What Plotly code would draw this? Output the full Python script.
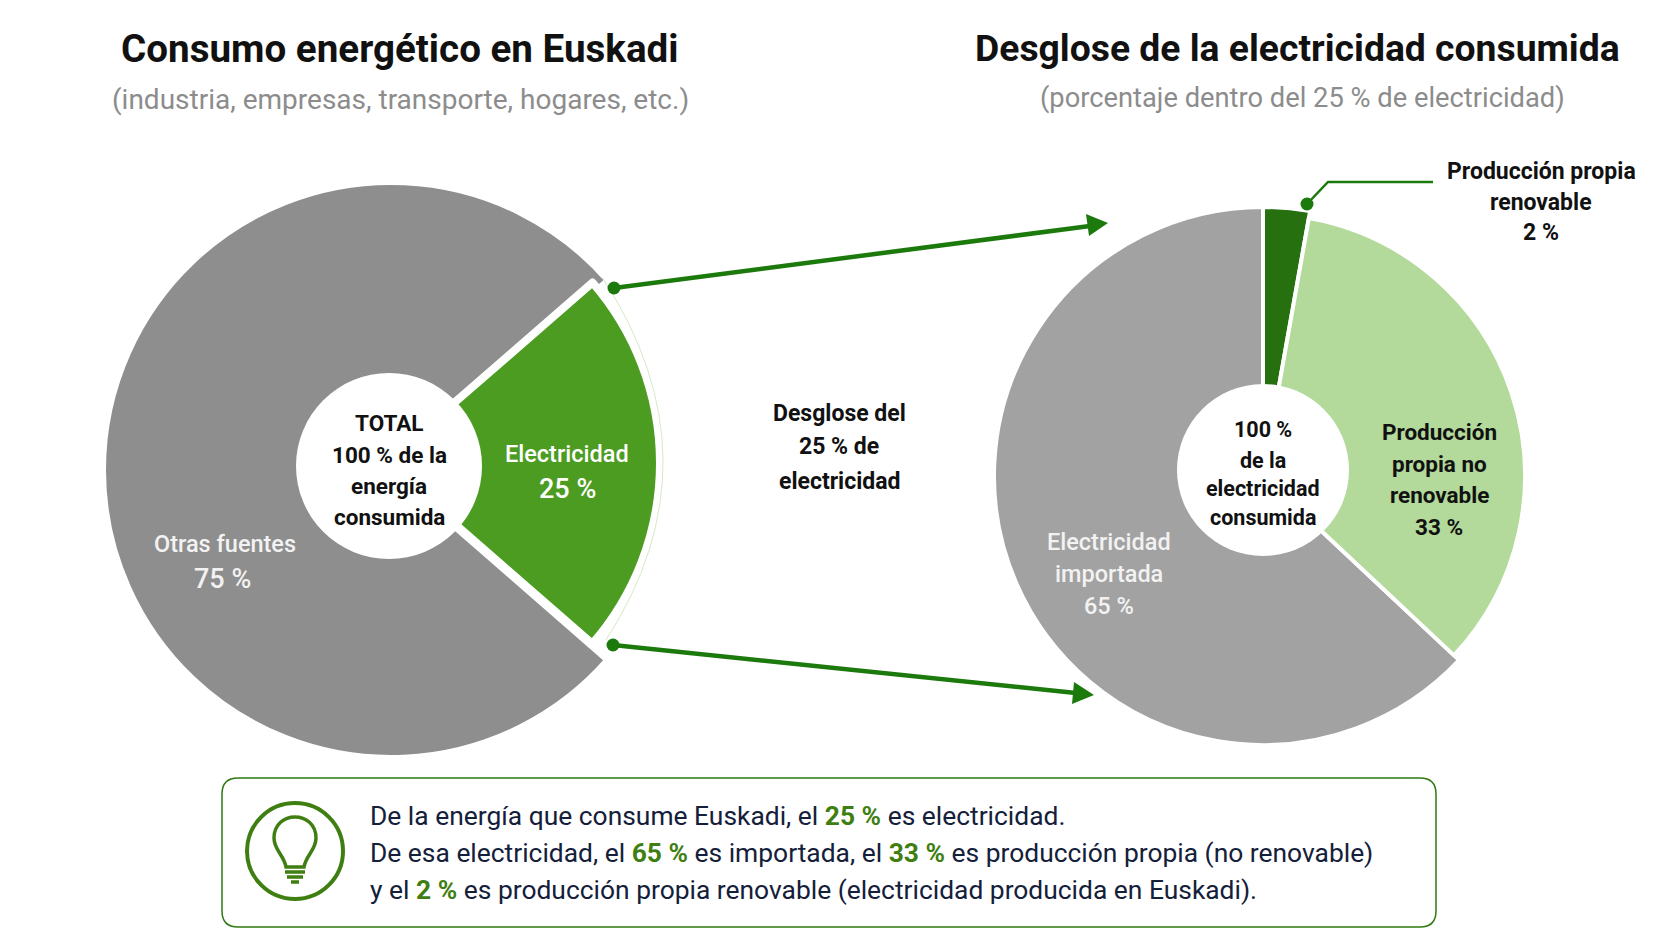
import plotly.graph_objects as go

W, H = 1672, 941
PAGE = 8  # browser page margin around the figure
FONT = "Roboto"

# Shares as drawn in the picture (arc lengths); printed percentages are in the label lists.
left_categories = ["Electricidad", "Otras fuentes"]
left_values = [22.8, 77.2]
left_labels = ["25 %", "75 %"]
right_categories = ["Producción propia renovable", "Producción propia no renovable", "Electricidad importada"]
right_values = [2.8, 34.2, 63.0]
right_labels = ["2 %", "33 %", "65 %"]

GRAY_L, GRAY_R = "#8e8e8e", "#a2a2a2"
GREEN, DARK, LIGHT, LINE = "#4c9c22", "#267010", "#b3d99b", "#1c7a0c"
INK, NAVY, MUTED, ACCENT = "#111111", "#14203a", "#8c8c8c", "#3f7f12"
CLEAR = "rgba(0,0,0,0)"


def px(x):
    return (x - PAGE) / W


def py(y):
    return 1 - (y - PAGE) / H


def dom(cx, cy, r):
    return dict(x=[px(cx - r), px(cx + r)], y=[py(cy + r), py(cy - r)])


def pie(values, labels, colors, widths, cx, cy, r, hole, rotation):
    return go.Pie(values=values, labels=labels, domain=dom(cx, cy, r), hole=hole, rotation=rotation,
                  sort=False, direction="clockwise", textinfo="none", hoverinfo="label",
                  showlegend=False,
                  marker=dict(colors=colors, line=dict(color="white", width=widths)))


fig = go.Figure()
fig.add_trace(pie(left_values, left_categories, [CLEAR, GRAY_L], [0, 8], 391, 470, 289, 70 / 289, 49))
fig.add_trace(pie(left_values, left_categories, [GREEN, CLEAR], [8, 0], 385, 463, 275, 70 / 275, 49))
fig.add_trace(pie(right_values, right_categories, [DARK, CLEAR, GRAY_R], [4, 0, 4], 1263, 476, 269, 70 / 269, 0))
fig.add_trace(pie(right_values, right_categories, [CLEAR, LIGHT, CLEAR], [0, 4, 0], 1263, 476, 262, 70 / 262, 0))

shapes = []
annotations = []


def text(x, y, s, size, color=INK, bold=False, anchor="center", weight=None):
    font = dict(family=FONT, size=size, color=color)
    if weight:
        font["weight"] = weight
    annotations.append(dict(xref="paper", yref="paper", x=px(x), y=py(y), text=f"<b>{s}</b>" if bold else s,
                            showarrow=False, xanchor=anchor, yanchor="middle", font=font))


def line(x0, y0, x1, y1, color=LINE, width=4):
    shapes.append(dict(type="line", xref="paper", yref="paper", x0=px(x0), y0=py(y0), x1=px(x1), y1=py(y1),
                       line=dict(color=color, width=width)))


def dot(x, y, r, color=LINE, layer="above"):
    shapes.append(dict(type="circle", xref="paper", yref="paper", x0=px(x - r), x1=px(x + r), y0=py(y + r), y1=py(y - r),
                       fillcolor=color, line=dict(width=0), layer=layer))


def path(d, color, width, fill=None):
    parts = []
    for seg in d:
        cmd, *nums = seg
        out = [cmd]
        for i, n in enumerate(nums):
            out.append(str(px(n) if i % 2 == 0 else py(n)))
        parts.append(" ".join(out))
    shapes.append(dict(type="path", xref="paper", yref="paper", path=" ".join(parts),
                       line=dict(color=color, width=width), fillcolor=fill or CLEAR))


# centre discs of the two rings
dot(389, 466, 93, "white")
dot(1263, 470, 86, "white")

# pale arc next to the green slice
path([("M", 602, 277), ("Q", 722, 460, 606, 640)], "#d5e9c8", 1)

# connectors
dot(614, 288, 6.5)
line(614, 288, 1090, 226, LINE, 4.5)
path([("M", 1108, 223), ("L", 1086, 214), ("L", 1089, 236), ("Z",)], LINE, 0, LINE)
dot(613, 645, 6.5)
line(613, 645, 1076, 693, LINE, 4.5)
path([("M", 1094, 695), ("L", 1074, 682), ("L", 1072, 704), ("Z",)], LINE, 0, LINE)
dot(1307, 204, 6.5)
path([("M", 1307, 204), ("L", 1328, 182), ("L", 1433, 182)], LINE, 2.5)

# note box
L, R, T, B, C = 222, 1436, 778, 927, 16
shapes.append(dict(type="path", xref="paper", yref="paper", line=dict(color="#2f7a12", width=1.5), fillcolor="white",
                   path=f"M {px(L + C)} {py(T)} L {px(R - C)} {py(T)} Q {px(R)} {py(T)} {px(R)} {py(T + C)} "
                        f"L {px(R)} {py(B - C)} Q {px(R)} {py(B)} {px(R - C)} {py(B)} "
                        f"L {px(L + C)} {py(B)} Q {px(L)} {py(B)} {px(L)} {py(B - C)} "
                        f"L {px(L)} {py(T + C)} Q {px(L)} {py(T)} {px(L + C)} {py(T)} Z"))

# bulb icon
shapes.append(dict(type="circle", xref="paper", yref="paper", x0=px(247), x1=px(343), y0=py(899), y1=py(803),
                   line=dict(color=ACCENT, width=4)))
path([("M", 286, 867), ("C", 284, 855, 274, 850, 274, 838), ("C", 274, 810, 316, 810, 316, 838),
      ("C", 316, 850, 306, 855, 304, 867), ("Z",)], ACCENT, 3.5)
line(285, 872, 305, 872, ACCENT, 3.5)
line(287, 877, 303, 877, ACCENT, 3.5)
line(291, 882, 299, 882, ACCENT, 3.5)

# titles
text(400, 49, "Consumo energético en Euskadi", 38.6, INK, True)
text(400, 99.5, "(industria, empresas, transporte, hogares, etc.)", 28, MUTED)
text(1297, 48, "Desglose de la electricidad consumida", 37.3, INK, True)
text(1302, 98.5, "(porcentaje dentro del 25 % de electricidad)", 27.3, MUTED)

# left pie
for y, s in zip([423, 455, 486, 517], ["TOTAL", "100 % de la", "energía", "consumida"]):
    text(389, y, s, 22.5, INK, True)
text(567, 454, left_categories[0], 23.5, "white", weight=500)
text(567, 489, left_labels[0], 27, "white", weight=500)
text(225, 544, left_categories[1], 23.5, "#f2f2f2", weight=500)
text(223, 579, left_labels[1], 27, "#f2f2f2", weight=500)

# middle
for y, s in zip([414, 447, 481], ["Desglose del", "25 % de", "electricidad"]):
    text(839, y, s, 23, INK, True)

# right pie
for y, s in zip([430, 460, 488, 517], ["100 %", "de la", "electricidad", "consumida"]):
    text(1263, y, s, 21.5, INK, True)
for y, s in zip([432, 464, 495, 527], ["Producción", "propia no", "renovable", right_labels[1]]):
    text(1439, y, s, 22.5, INK, True)
for y, s in zip([542, 574, 606], ["Electricidad", "importada", right_labels[2]]):
    text(1109, y, s, 23.5, "#f2f2f2", weight=500)
for y, s in zip([171, 202, 232], ["Producción propia", "renovable", right_labels[0]]):
    text(1541, y, s, 23, INK, True)


def hi(s):
    return f"<b><span style='color:{ACCENT}'>{s}</span></b>"


text(368, 816, f"De la energía que consume Euskadi, el {hi(left_labels[0])} es electricidad.", 26.4, NAVY, anchor="left")
text(368, 853, f"De esa electricidad, el {hi(right_labels[2])} es importada, el {hi(right_labels[1])} es producción propia (no renovable)", 26.4, NAVY, anchor="left")
text(368, 890, f"y el {hi(right_labels[0])} es producción propia renovable (electricidad producida en Euskadi).", 26.4, NAVY, anchor="left")

fig.update_layout(width=W, height=H, margin=dict(l=0, r=0, t=0, b=0), paper_bgcolor="white",
                  plot_bgcolor="white", shapes=shapes, annotations=annotations, showlegend=False)
fig.write_html("out.html")
